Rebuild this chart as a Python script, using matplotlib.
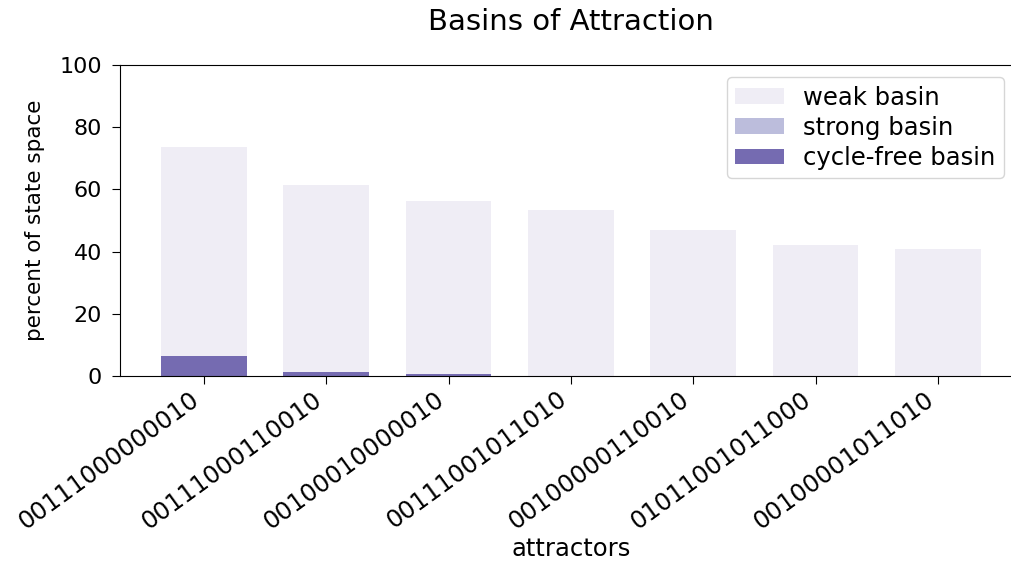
import matplotlib
matplotlib.use('Agg')
import matplotlib.pyplot as plt
import numpy as np

attractors = ['00111000000010', '00111000110010', '00100010000010', '00111001011010',
              '00100000110010', '01011001011000', '00100001011010']
weak = [73.6, 61.4, 56.3, 53.4, 47.0, 42.1, 40.8]
strong = [6.4, 1.3, 0.5, 0.0, 0.0, 0.0, 0.0]
cycle_free = [6.4, 1.3, 0.5, 0.0, 0.0, 0.0, 0.0]

x = np.arange(len(attractors))

fig = plt.figure(figsize=(10.12, 5.74), dpi=100)
ax = fig.add_axes([0.1186, 0.345, 0.891, 0.5418])

ax.bar(x, weak, width=0.7, color='#efedf5', label='weak basin')
ax.bar(x, strong, width=0.7, color='#bcbddc', label='strong basin')
ax.bar(x, cycle_free, width=0.7, color='#756bb1', label='cycle-free basin')

ax.set_ylim(0, 100)
ax.set_xticks(x)
ax.set_xticklabels(attractors, rotation=36, ha='right', fontsize=17.5)
ax.tick_params(axis='x', length=6, pad=2)
ax.tick_params(axis='y', labelsize=16, length=6, pad=7)
ax.set_xlabel('attractors', fontsize=17.5, labelpad=2)
ax.set_ylabel('percent of state space', fontsize=15.5, labelpad=10)
ax.set_title('Basins of Attraction', fontsize=21, pad=25)
ax.legend(loc='upper right', bbox_to_anchor=(0.994, 1.0), fontsize=17.5,
          labelspacing=0.25, handleheight=0.6, borderpad=0.35)

fig.savefig('out.png', dpi=100)
